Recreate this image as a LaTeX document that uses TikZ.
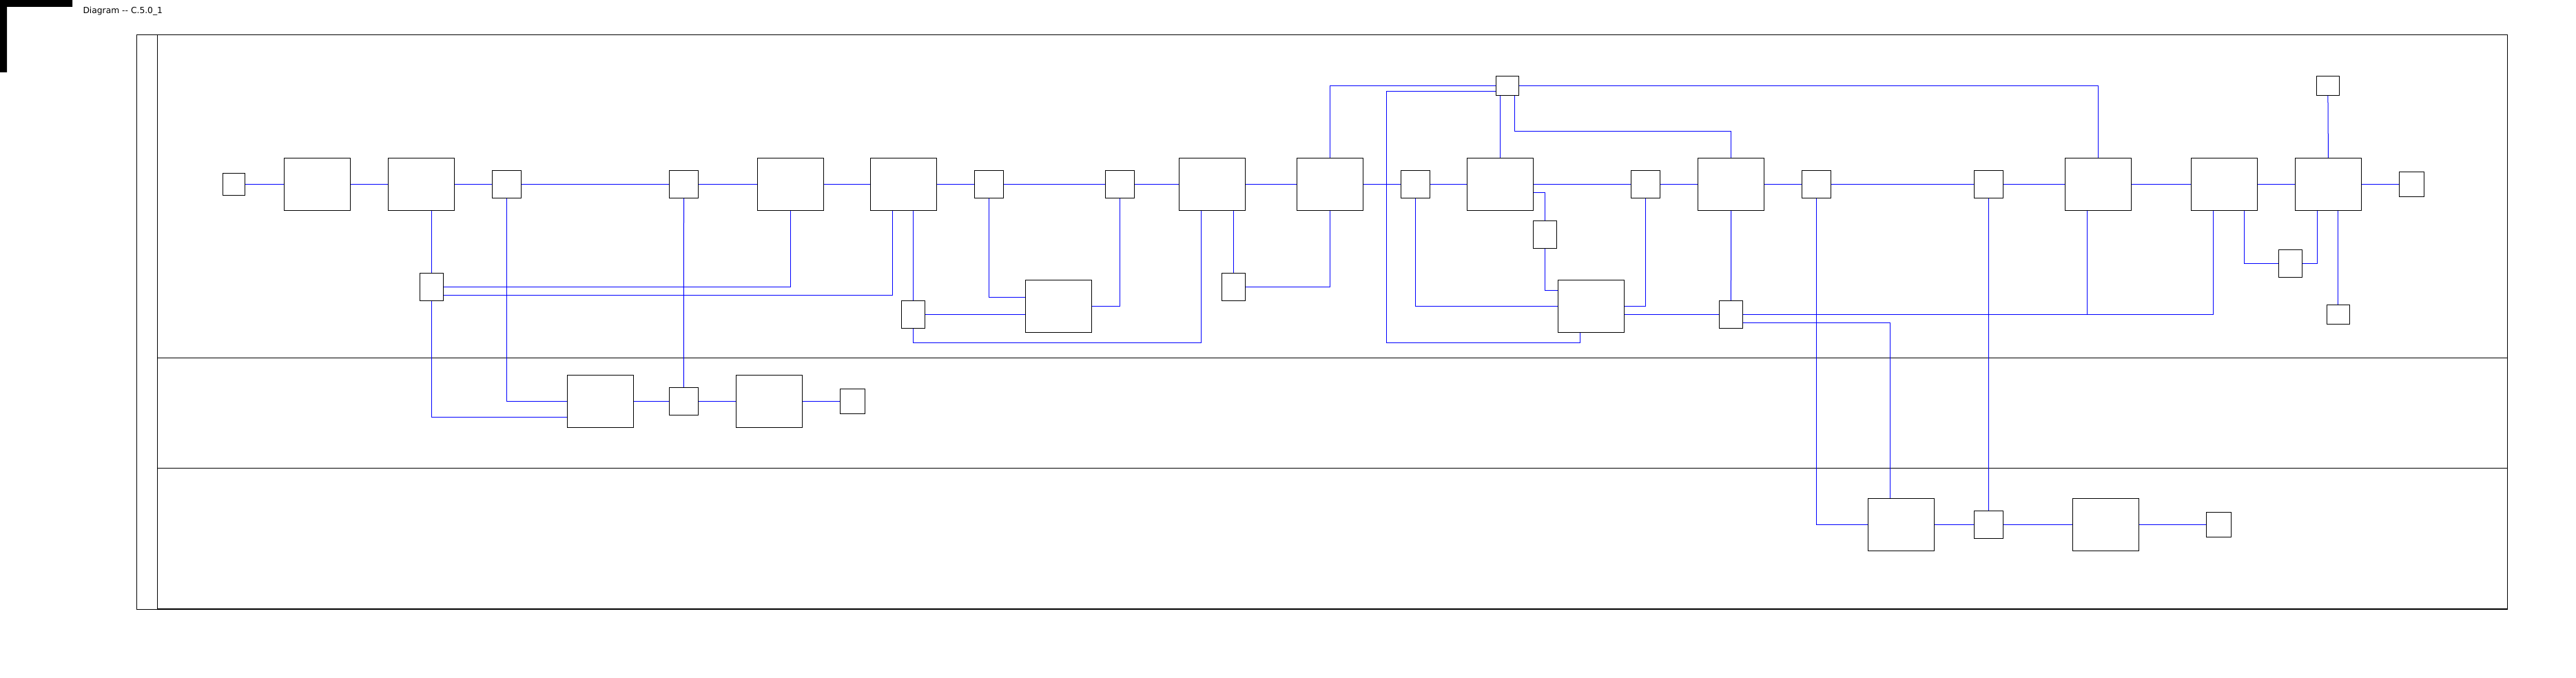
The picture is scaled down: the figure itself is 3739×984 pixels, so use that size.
\documentclass[tikz,border=0pt]{standalone}
\usepackage{fontspec}
\setmainfont{DejaVu Sans}
\begin{document}
\begin{tikzpicture}[x=1pt,y=-1pt,line width=1pt,
  task/.style={draw,minimum width=95.7pt,minimum height=76pt,inner sep=0pt},
  gate/.style={draw,minimum width=42pt,minimum height=40pt,inner sep=0pt},
  minitask/.style={draw,minimum width=34pt,minimum height=40pt,inner sep=0pt},
  ev/.style={draw,minimum width=36pt,minimum height=36pt,inner sep=0pt},
  msg/.style={draw,minimum width=33pt,minimum height=28pt,inner sep=0pt},
  flow/.style={blue,line width=1pt}]
\useasboundingbox (0,0) rectangle (3739,984);
\fill (0,0)--(105,0)--(105,10)--(10,10)--(10,105)--(0,105)--cycle;
\node[anchor=base west,inner sep=0pt,font=\fontsize{12.3}{14}\selectfont] (title) at (120,20) {Diagram -{}- C.5.0\_1};
\draw (198.3,50.5) rectangle (3639.5,884); \draw (228.3,50.5)--(228.3,884);
\draw (228.3,519.3)--(3639.5,519.3); \draw (228.3,679.3)--(3639.5,679.3);
\draw[line width=2pt] (228.3,884)--(3639.5,884);
\node[ev,minimum width=32pt,minimum height=32pt] (s1) at (339.5,267.3) {};
\node[task] (t1) at (460.6,267.3) {}; \node[task] (t2) at (611.5,267.3) {};
\node[gate] (g1) at (735.5,267.3) {}; \node[gate] (g2) at (992.5,267.3) {};
\node[task] (t3) at (1147.6,267.3) {}; \node[task] (t4) at (1311.7,267.3) {};
\node[gate] (g3) at (1435.5,267.3) {}; \node[gate] (g4) at (1625.5,267.3) {};
\node[task] (t5) at (1759.5,267.3) {}; \node[task] (t6) at (1930.4,267.3) {};
\node[gate] (g5) at (2054.3,267.3) {}; \node[task] (t7) at (2177.3,267.3) {};
\node[gate] (g6) at (2388.3,267.3) {}; \node[task] (t8) at (2512.7,267.3) {};
\node[gate] (g7) at (2636.5,267.3) {}; \node[gate] (g8) at (2886.5,267.3) {};
\node[task] (t9) at (3045.6,267.3) {}; \node[task] (t10) at (3228.5,267.3) {};
\node[task] (t11) at (3379.4,267.3) {}; \node[ev] (e1) at (3500.6,267.3) {};
\node[minitask] (f1) at (626.7,416.3) {}; \node[minitask] (f2) at (1325.4,456.3) {};
\node[task] (t12) at (1536.2,444.3) {}; \node[minitask] (f3) at (1790.4,416.3) {};
\node[msg] (m1) at (2187.9,124.3) {}; \node[minitask] (f4) at (2242.3,340.3) {};
\node[task] (t13) at (2309.3,444.3) {}; \node[minitask] (f5) at (2512.4,456.3) {};
\node[minitask] (f6) at (3324.5,382.3) {}; \node[msg] (m2) at (3378.9,124.3) {};
\node[msg] (m3) at (3393.8,456.3) {};
\node[task] (t14) at (871.5,582.3) {}; \node[gate] (g9) at (992.4,582.3) {};
\node[task] (t15) at (1116.3,582.3) {}; \node[ev] (e2) at (1237.3,582.3) {};
\node[task] (t16) at (2759.6,761.3) {}; \node[gate] (g10) at (2886.5,761.3) {};
\node[task] (t17) at (3056.3,761.3) {}; \node[ev] (e3) at (3220.3,761.3) {};
\foreach \a/\b in {s1/t1,t1/t2,t2/g1,g1/g2,g2/t3,t3/t4,t4/g3,g3/g4,g4/t5,t5/t6,t6/g5,g5/t7,t7/g6,g6/t8,t8/g7,g7/g8,g8/t9,t9/t10,t10/t11,t11/e1,t14/g9,g9/t15,t15/e2,t16/g10,g10/t17,t17/e3}
  \draw[flow] (\a)--(\b);
\draw[flow] (f1.north|-t2.south)--(f1.north);
\draw[flow] (f1.east)-|(t3.south);
\draw[flow] ([yshift=-12pt]f1.east)-|([xshift=-16.5pt]t4.south);
\draw[flow] (f1.south)|-([yshift=-23pt]t14.west);
\draw[flow] (g1.south)|-(t14.west);
\draw[flow] (g2.south)--(g9.north);
\draw[flow] (f2.north|-t4.south)--(f2.north);
\draw[flow] (f2.east)--(f2.east-|t12.west);
\draw[flow] (f2.south)--++(0,21)-|([xshift=-16pt]t5.south);
\draw[flow] (g3.south)|-([yshift=13pt]t12.west);
\draw[flow] (g4.south)|-(t12.east);
\draw[flow] (f3.north|-t5.south)--(f3.north);
\draw[flow] (f3.east)-|(t6.south);
\draw[flow] (t6.north)|-(m1.west);
\draw[flow] (m1.east)-|(t9.north);
\coordinate (k1) at (2012.8,497.3);
\draw[flow] ([xshift=-16pt]t13.south)|-(k1)|-([yshift=-8pt]m1.west);
\draw[flow] (t7.north|-m1.south)--(t7.north);
\draw[flow] ([xshift=10.4pt]m1.south)--++(0,52)-|(t8.north);
\draw[flow] (g5.south)|-(t13.west);
\draw[flow] ([yshift=-12pt]t7.east)-|(f4.north);
\draw[flow] (f4.south)|-([yshift=23pt]t13.west);
\draw[flow] (g6.south)|-(t13.east);
\draw[flow] (f5.west-|t13.east)--(f5.west);
\draw[flow] (t8.south)--(f5.north);
\draw[flow] (f5.east)-|([xshift=-16pt]t9.south);
\draw[flow] (f5.east)-|([xshift=-16pt]t10.south);
\draw[flow] ([yshift=-12pt]f5.east)-|([xshift=-16pt]t16.north);
\draw[flow] (g7.south)|-(t16.west);
\draw[flow] (g8.south)--(g10.north);
\draw[flow] ([xshift=29pt]t10.south)|-(f6.west);
\draw[flow] ([xshift=-16pt]t11.south)|-(f6.east);
\draw[flow] (t11.north)--(m2.south);
\draw[flow] (m3.north|-t11.south)--(m3.north);
\end{tikzpicture}
\end{document}
